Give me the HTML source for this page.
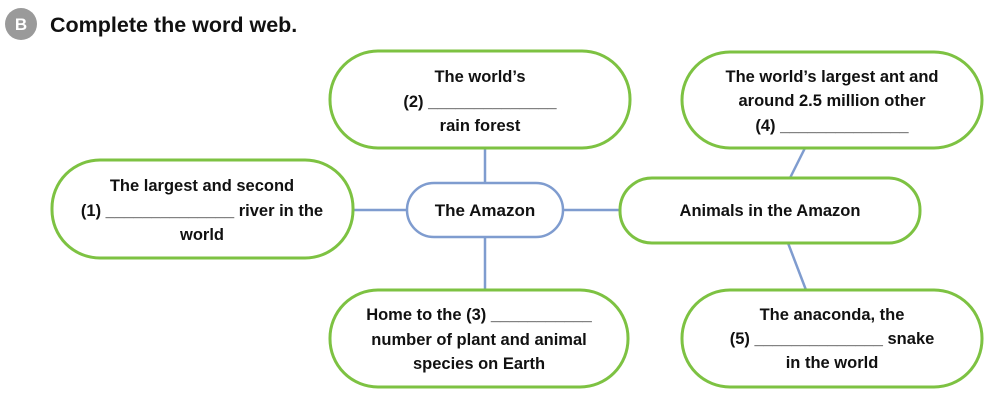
<!DOCTYPE html>
<html><head><style>
body{margin:0;background:#fff;}
svg{display:block;}
text{font-family:"Liberation Sans",sans-serif;font-weight:bold;fill:#111;}
</style></head><body>
<svg width="995" height="419" viewBox="0 0 995 419" xmlns="http://www.w3.org/2000/svg">
<circle cx="21" cy="24" r="16" fill="#9a9a9a"/>
<text x="21" y="30" font-size="17" text-anchor="middle" style="fill:#fff">B</text>
<text x="50" y="32" font-size="21.5">Complete the word web.</text>
<g stroke="#7f9ccf" stroke-width="2.5" fill="none">
<line x1="485" y1="148" x2="485" y2="183"/>
<line x1="485" y1="237" x2="485" y2="290"/>
<line x1="353" y1="210" x2="407" y2="210"/>
<line x1="563" y1="210" x2="620" y2="210"/>
<line x1="805" y1="148" x2="790" y2="178"/>
<line x1="788" y1="243" x2="806" y2="290"/>
</g>
<g stroke="#7dc242" stroke-width="3" fill="#fff">
<rect x="330" y="51" width="300" height="97" rx="48"/>
<rect x="52" y="160" width="301" height="98" rx="48"/>
<rect x="620" y="178" width="300" height="65" rx="32"/>
<rect x="682" y="52" width="300" height="96" rx="48"/>
<rect x="330" y="290" width="298" height="97" rx="48"/>
<rect x="682" y="290" width="300" height="97" rx="48"/>
</g>
<rect x="407" y="183" width="156" height="54" rx="27" fill="#fff" stroke="#7f9ccf" stroke-width="2.5"/>
<g font-size="16.5" text-anchor="middle">
<text x="485" y="216" font-size="17">The Amazon</text>
<text x="480" y="82">The world’s</text>
<text x="480" y="107">(2) ______________</text>
<text x="480" y="131">rain forest</text>
<text x="202" y="191">The largest and second</text>
<text x="202" y="216">(1) ______________ river in the</text>
<text x="202" y="240">world</text>
<text x="770" y="216">Animals in the Amazon</text>
<text x="832" y="82">The world’s largest ant and</text>
<text x="832" y="106">around 2.5 million other</text>
<text x="832" y="131">(4) ______________</text>
<text x="479" y="320">Home to the (3) ___________</text>
<text x="479" y="345">number of plant and animal</text>
<text x="479" y="369">species on Earth</text>
<text x="832" y="320">The anaconda, the</text>
<text x="832" y="344">(5) ______________ snake</text>
<text x="832" y="368">in the world</text>
</g>
</svg>
</body></html>
